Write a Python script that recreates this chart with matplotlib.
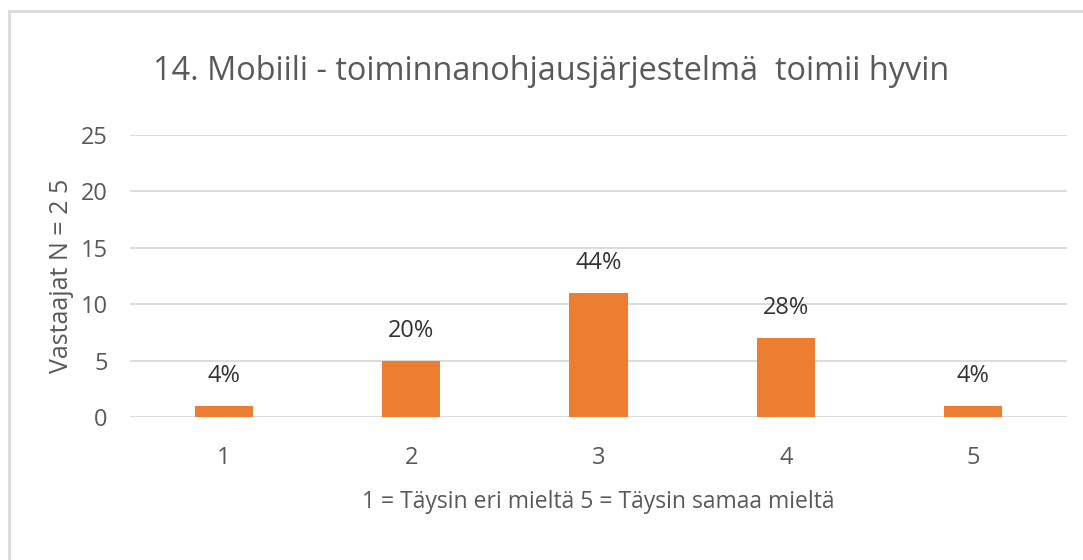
import matplotlib
matplotlib.use("Agg")
import matplotlib.pyplot as plt
from matplotlib.patches import Rectangle

categories = ["1", "2", "3", "4", "5"]
counts = [1, 5, 11, 7, 1]
labels = ["4%", "20%", "44%", "28%", "4%"]
yticks = [0, 5, 10, 15, 20, 25]

plt.rcParams['font.family'] = ["Open Sans", 'DejaVu Sans']

W, H = 1083, 560
fig = plt.figure(figsize=(W/100, H/100), dpi=100)
ax = fig.add_axes([130/W, 1-417/H, (1067-130)/W, (417-135)/H])

x = list(range(len(categories)))
ax.bar(x, counts, width=0.31, color="#ED7D31", zorder=3)
for xi, c, lab in zip(x, counts, labels):
    ax.annotate(lab, (xi, c), xytext=(0, 13), textcoords="offset points",
                ha="center", va="bottom", fontsize=17, color="#333333")

ax.set_xlim(-0.5, 4.5)
ax.set_ylim(0, 25)
ax.set_yticks(yticks)
ax.set_xticks(x)
ax.set_xticklabels(categories)
ax.grid(axis="y", color="#D9D9D9", linewidth=1.3, zorder=0)
for s in ax.spines.values():
    s.set_visible(False)
ax.tick_params(axis="both", length=0, labelsize=17, labelcolor="#595959")
ax.tick_params(axis="y", pad=16)
ax.tick_params(axis="x", pad=21)

ax.set_ylabel("Vastaajat N = 2 5", fontsize=18, color="#595959")
ax.yaxis.set_label_coords((74 - 130) / (1067 - 130), 0.5)
ax.set_xlabel("1 = Täysin eri mieltä 5 = Täysin samaa mieltä", fontsize=16.5,
              color="#595959", labelpad=14)

fig.text(551/W, 1-72/H, "14. Mobiili - toiminnanohjausjärjestelmä  toimii hyvin",
         ha="center", va="center", fontsize=23.4, color="#595959")

fig.patches.append(Rectangle((9/W, -0.1), 1.2, 1 + 0.1 - 11/H, transform=fig.transFigure,
                             fill=False, edgecolor="#D9D9D9", linewidth=2))

fig.savefig("out.png", dpi=100)
